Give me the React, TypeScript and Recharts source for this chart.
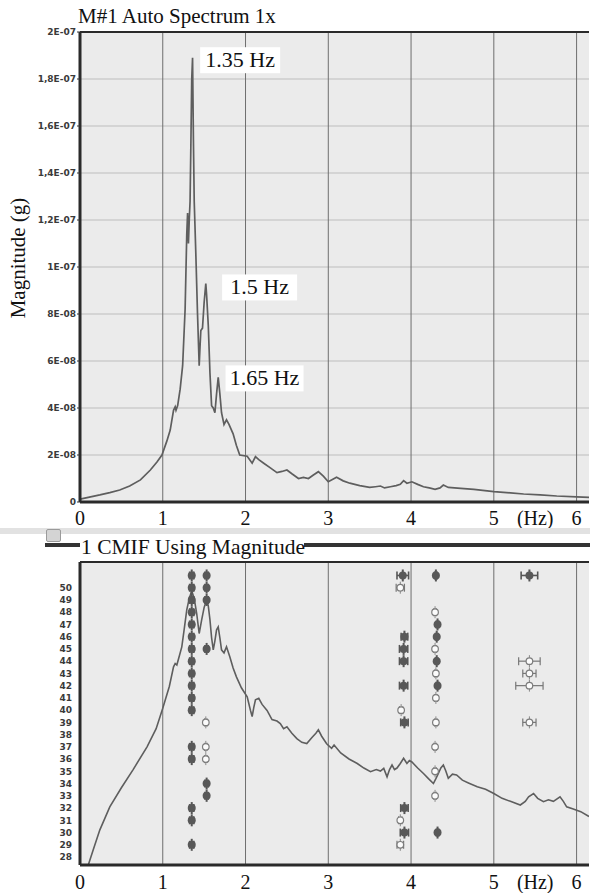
import {
  CartesianGrid,
  ComposedChart,
  ErrorBar,
  Line,
  ReferenceDot,
  ReferenceLine,
  Scatter,
  XAxis,
  YAxis,
} from "recharts"

// auto spectrum, frequency (Hz) vs magnitude (g)
const specFreq = [
  0, 0.1, 0.24, 0.36, 0.48, 0.6, 0.73, 0.85, 0.93, 0.99, 1.05, 1.09, 1.13, 1.15, 1.16, 1.18,
  1.21, 1.24, 1.27, 1.29, 1.3, 1.31, 1.32, 1.33, 1.34, 1.35, 1.36, 1.37, 1.38, 1.4, 1.42,
  1.44, 1.45, 1.46, 1.48, 1.5, 1.52, 1.53, 1.55, 1.57, 1.59, 1.61, 1.63, 1.65, 1.67, 1.69,
  1.71, 1.74, 1.77, 1.8, 1.85, 1.89, 1.93, 2.02, 2.08, 2.12, 2.16, 2.22, 2.3, 2.38, 2.44,
  2.5, 2.56, 2.64, 2.7, 2.76, 2.82, 2.88, 2.94, 3.0, 3.1, 3.18, 3.26, 3.38, 3.5, 3.57, 3.63,
  3.68, 3.75, 3.82, 3.87, 3.91, 3.95, 4.01, 4.08, 4.15, 4.22, 4.29, 4.35, 4.39, 4.45, 4.6,
  4.76, 5.0, 5.2, 5.36, 5.56, 5.76, 6.0, 6.15,
]
const specMag = [
  1.2e-9, 2.0e-9, 3.0e-9, 4.0e-9, 5.1e-9, 6.8e-9, 9.4e-9, 1.36e-8, 1.7e-8, 2.0e-8, 2.6e-8,
  3.06e-8, 3.9e-8, 4.05e-8, 3.9e-8, 4.1e-8, 4.8e-8, 5.8e-8, 8.2e-8, 1.14e-7, 1.23e-7, 1.1e-7,
  1.2e-7, 1.28e-7, 1.53e-7, 1.8e-7, 1.89e-7, 1.55e-7, 1.28e-7, 1.05e-7, 8.0e-8, 5.8e-8,
  6.6e-8, 7.3e-8, 7.4e-8, 8.5e-8, 9.3e-8, 8.8e-8, 7.5e-8, 5.5e-8, 4.1e-8, 4.0e-8, 3.8e-8,
  4.6e-8, 5.3e-8, 4.6e-8, 3.8e-8, 3.3e-8, 3.5e-8, 3.3e-8, 2.9e-8, 2.4e-8, 2.0e-8, 1.95e-8,
  1.65e-8, 1.93e-8, 1.8e-8, 1.65e-8, 1.45e-8, 1.25e-8, 1.3e-8, 1.36e-8, 1.2e-8, 1.0e-8,
  1.05e-8, 1.0e-8, 1.15e-8, 1.29e-8, 1.1e-8, 8.6e-9, 1.05e-8, 9.0e-9, 8.0e-9, 7.0e-9,
  6.2e-9, 6.5e-9, 6.8e-9, 6.0e-9, 6.5e-9, 7.0e-9, 7.5e-9, 9.1e-9, 8.0e-9, 8.6e-9, 7.5e-9,
  6.5e-9, 6.0e-9, 5.4e-9, 6.0e-9, 7.2e-9, 6.2e-9, 5.8e-9, 5.4e-9, 4.4e-9, 3.9e-9, 3.4e-9,
  3.0e-9, 2.55e-9, 2.2e-9, 2.0e-9,
]

const magTicks = [0, 2e-8, 4e-8, 6e-8, 8e-8, 1e-7, 1.2e-7, 1.4e-7, 1.6e-7, 1.8e-7, 2e-7]
const magTickLabels = ["0", "2E-08", "4E-08", "6E-08", "8E-08", "1E-07", "1,2E-07", "1,4E-07", "1,6E-07", "1,8E-07", "2E-07"]

const hzTicks = [0, 1, 2, 3, 4, 5, 5.5, 6]
const hzTickLabels = ["0", "1", "2", "3", "4", "5", "(Hz)", "6"]
const hzGrid = [1, 2, 3, 4, 5, 6]

// CMIF curve (relative level, 0..100 of the plot height)
const cmifFreq = [
  0.1, 0.16, 0.24, 0.36, 0.5, 0.64, 0.81, 0.92, 1.0, 1.08, 1.13, 1.15, 1.17, 1.2, 1.23, 1.26,
  1.29, 1.32, 1.35, 1.38, 1.41, 1.44, 1.47, 1.5, 1.53, 1.55, 1.57, 1.59, 1.61, 1.63, 1.65,
  1.67, 1.69, 1.71, 1.74, 1.77, 1.81, 1.85, 1.89, 1.95, 2.02, 2.06, 2.08, 2.1, 2.12, 2.16,
  2.2, 2.26, 2.32, 2.38, 2.42, 2.46, 2.5, 2.56, 2.62, 2.68, 2.74, 2.8, 2.85, 2.88, 2.92,
  2.98, 3.04, 3.07, 3.15, 3.25, 3.35, 3.43, 3.51, 3.58, 3.63, 3.67, 3.71, 3.74, 3.77, 3.8,
  3.83, 3.87, 3.91, 3.95, 3.98, 4.01, 4.08, 4.15, 4.21, 4.27, 4.3, 4.33, 4.36, 4.39, 4.42,
  4.45, 4.5, 4.55, 4.62, 4.7, 4.8, 4.9, 5.0, 5.1, 5.2, 5.32, 5.38, 5.42, 5.48, 5.53, 5.6,
  5.66, 5.72, 5.8, 5.84, 5.88, 5.96, 6.05, 6.15,
]
const cmifLevel = [
  0, 5, 11.6, 19.2, 25.5, 31.4, 39, 45, 51.7, 59, 65.4, 66.5, 66, 69, 72, 78, 84.2, 88, 90.5,
  88, 83, 76.4, 80.9, 85, 87.5, 85.5, 81, 75, 71, 74, 77.6, 78.6, 75, 71, 70, 72, 68.7, 65,
  62.1, 58.5, 55.5, 51, 49, 52, 54.5, 55, 53, 51, 48, 47.5, 46.7, 45, 45.6, 43.5, 41.7, 40.5,
  40.1, 42, 43.5, 44.6, 42.5, 40, 38.5, 39.6, 37, 35, 33.5, 32, 30.8, 31.5, 31, 31.9, 29.1,
  31.5, 33, 31.5, 32, 33.5, 35.2, 33.5, 34.5, 34, 32, 30.2, 28.5, 26.9, 28.5, 30.2, 32, 33,
  31, 28.6, 30, 29.7, 28, 27, 25.8, 25, 23.6, 22, 21, 19.8, 21, 22.5, 23.6, 22, 20.9, 21.5,
  21, 22.5, 21, 19.2, 18.5, 17.6, 16,
]

// stability markers: [frequency Hz, model order, frequency spread Hz]
const stablePoles: [number, number, number][] = [
  [1.35, 51, 0.025], [1.35, 50, 0.025], [1.35, 49, 0.025], [1.35, 48, 0.025], [1.35, 47, 0.025],
  [1.35, 46, 0.025], [1.35, 45, 0.025], [1.35, 44, 0.025], [1.35, 43, 0.025], [1.35, 42, 0.025],
  [1.35, 41, 0.025], [1.35, 40, 0.025], [1.35, 37, 0.025], [1.35, 36, 0.025], [1.35, 32, 0.025],
  [1.35, 31, 0.025], [1.35, 29, 0.025],
  [1.53, 51, 0.02], [1.53, 50, 0.02], [1.53, 49, 0.02], [1.53, 45, 0.02], [1.53, 34, 0.02],
  [1.53, 33, 0.02],
  [3.9, 51, 0.07], [3.92, 46, 0.04], [3.91, 45, 0.05], [3.91, 44, 0.05], [3.91, 42, 0.05],
  [3.92, 39, 0.045], [3.92, 32, 0.045], [3.92, 30, 0.05],
  [4.3, 51, 0.015], [4.32, 47, 0.015], [4.31, 46, 0.015], [4.31, 44, 0.015], [4.32, 42, 0.015],
  [4.32, 30, 0.015],
  [5.43, 51, 0.1],
]
const unstablePoles: [number, number, number][] = [
  [1.52, 39, 0.015], [1.52, 37, 0.015], [1.52, 36, 0.015],
  [3.87, 50, 0.05], [3.88, 40, 0.02], [3.87, 31, 0.02], [3.87, 29, 0.04],
  [4.29, 48, 0.015], [4.29, 45, 0.015], [4.3, 43, 0.015], [4.3, 41, 0.015], [4.3, 39, 0.015],
  [4.29, 37, 0.015], [4.29, 35, 0.015], [4.29, 33, 0.015],
  [5.43, 44, 0.13], [5.43, 43, 0.08], [5.43, 42, 0.165], [5.43, 39, 0.08],
]

const orderTicks = [50, 49, 48, 47, 46, 45, 44, 43, 42, 41, 40, 39, 38, 37, 36, 35, 34, 33, 32, 31, 30, 29, 28]

const spectrumData = specFreq.map((f, i) => ({ f, mag: specMag[i] }))
const cmifData = cmifFreq.map((f, i) => ({ f, v: cmifLevel[i] }))
const stableData = stablePoles.map(([f, order, df]) => ({ f, order, df }))
const unstableData = unstablePoles.map(([f, order, df]) => ({ f, order, df }))

const serif = "'Liberation Serif', 'Times New Roman', serif"
const smallFont = { fontFamily: "'DejaVu Sans', sans-serif", fontSize: 9, fontWeight: 700, fill: "#3a3a3a" }
const hzTickStyle = { fontFamily: serif, fontSize: 20, fill: "#111" }

function PeakLabel(props: any) {
  const { cx, cy, text, w } = props
  return (
    <g>
      <rect x={cx - w / 2} y={cy - 13} width={w} height={26} fill="#ffffff" />
      <text x={cx} y={cy + 7} textAnchor="middle" fontFamily={serif} fontSize={22} fill="#111">
        {text}
      </text>
    </g>
  )
}

function StableMark(props: any) {
  const { cx, cy } = props
  return (
    <g>
      <line x1={cx} x2={cx} y1={cy - 6} y2={cy + 6} stroke="#555" strokeWidth={2} />
      <circle cx={cx} cy={cy} r={4} fill="#585858" />
    </g>
  )
}

function UnstableMark(props: any) {
  const { cx, cy } = props
  return (
    <g>
      <line x1={cx} x2={cx} y1={cy - 6} y2={cy + 6} stroke="#888" strokeWidth={1} />
      <circle cx={cx} cy={cy} r={3.3} fill="#fbfbfb" stroke="#7c7c7c" strokeWidth={1.2} />
    </g>
  )
}

export default function App() {
  return (
    <div
      style={{
        position: "absolute",
        left: 0,
        top: 0,
        width: 590,
        height: 893,
        background: "#fff",
        overflow: "hidden",
      }}
    >
      <div
        style={{
          position: "absolute",
          left: 78,
          top: 4,
          fontFamily: serif,
          fontSize: 21,
          lineHeight: "24px",
          color: "#111",
          whiteSpace: "nowrap",
        }}
      >
        M#1 Auto Spectrum 1x
      </div>

      <div style={{ position: "absolute", left: 0, top: 0 }}>
        <ComposedChart
          width={590}
          height={530}
          data={spectrumData}
          margin={{ top: 32, right: 1, bottom: 0, left: 0 }}
        >
          <CartesianGrid vertical={false} fill="#ebebeb" stroke="#cdcdcd" strokeWidth={1.5} />
          <XAxis
            dataKey="f"
            type="number"
            domain={[0, 6.15]}
            allowDataOverflow
            ticks={hzTicks}
            interval={0}
            tickFormatter={(_v: number, i: number) => hzTickLabels[i]}
            tick={hzTickStyle}
            tickLine={false}
            tickSize={0}
            tickMargin={9}
            height={28}
            axisLine={{ stroke: "#2a2a2a", strokeWidth: 3 }}
          />
          <YAxis
            type="number"
            domain={[0, 2e-7]}
            ticks={magTicks}
            interval={0}
            tickFormatter={(_v: number, i: number) => magTickLabels[i]}
            tick={smallFont}
            tickSize={3}
            tickMargin={1}
            tickLine={{ stroke: "#333" }}
            width={80}
            axisLine={{ stroke: "#2a2a2a", strokeWidth: 3 }}
            label={{
              value: "Magnitude (g)",
              content: () => (
                <text
                  x={18}
                  y={258}
                  transform="rotate(-90 18 258)"
                  textAnchor="middle"
                  dominantBaseline="central"
                  fontFamily={serif}
                  fontSize={21}
                  fill="#111"
                >
                  Magnitude (g)
                </text>
              ),
            }}
          />
          {hzGrid.map((x) => (
            <ReferenceLine key={x} x={x} stroke="#6e6e6e" strokeWidth={1} />
          ))}
          <ReferenceLine y={2e-7} stroke="#2a2a2a" strokeWidth={2} />
          <Line
            dataKey="mag"
            type="linear"
            stroke="#5e5e5e"
            strokeWidth={1.7}
            dot={false}
            isAnimationActive={false}
          />
          <ReferenceDot
            x={1.935}
            y={1.88e-7}
            ifOverflow="visible"
            shape={(p: any) => <PeakLabel {...p} text="1.35 Hz" w={80} />}
          />
          <ReferenceDot
            x={2.17}
            y={9.13e-8}
            ifOverflow="visible"
            shape={(p: any) => <PeakLabel {...p} text="1.5 Hz" w={75} />}
          />
          <ReferenceDot
            x={2.23}
            y={5.26e-8}
            ifOverflow="visible"
            shape={(p: any) => <PeakLabel {...p} text="1.65 Hz" w={78} />}
          />
        </ComposedChart>
      </div>

      {/* header strip of the lower panel */}
      <div style={{ position: "absolute", left: 0, top: 528, width: 590, height: 6, background: "#e2e2e2" }} />
      <div
        style={{
          position: "absolute",
          left: 46,
          top: 529,
          width: 13,
          height: 11,
          background: "#d4d4d4",
          border: "1px solid #9a9a9a",
          borderRadius: 2,
        }}
      />
      <div style={{ position: "absolute", left: 45, top: 543, width: 545, height: 4, background: "#333" }} />
      <div
        style={{
          position: "absolute",
          left: 80,
          top: 536,
          width: 224,
          height: 24,
          background: "#fff",
        }}
      />
      <div
        style={{
          position: "absolute",
          left: 81,
          top: 535,
          fontFamily: serif,
          fontSize: 21.5,
          lineHeight: "24px",
          color: "#111",
          whiteSpace: "nowrap",
        }}
      >
        1 CMIF Using Magnitude
      </div>

      <div style={{ position: "absolute", left: 0, top: 530 }}>
        <ComposedChart width={590} height={363} margin={{ top: 32, right: 1, bottom: 0, left: 0 }}>
          <CartesianGrid vertical={false} horizontal={false} fill="#ebebeb" />
          <XAxis
            dataKey="f"
            type="number"
            domain={[0, 6.15]}
            allowDataOverflow
            ticks={hzTicks}
            interval={0}
            tickFormatter={(_v: number, i: number) => hzTickLabels[i]}
            tick={hzTickStyle}
            tickLine={false}
            tickSize={0}
            tickMargin={10}
            height={28}
            axisLine={{ stroke: "#2a2a2a", strokeWidth: 3 }}
          />
          <YAxis
            yAxisId="order"
            dataKey="order"
            type="number"
            domain={[27.35, 52.1]}
            allowDataOverflow
            ticks={orderTicks}
            interval={0}
            tick={smallFont}
            tickLine={false}
            tickSize={0}
            tickMargin={8}
            width={80}
            axisLine={{ stroke: "#2a2a2a", strokeWidth: 3 }}
          />
          <YAxis
            yAxisId="cmif"
            orientation="right"
            width={0}
            type="number"
            domain={[0, 100]}
            allowDataOverflow
            hide
          />
          {hzGrid.map((x) => (
            <ReferenceLine key={x} x={x} yAxisId="order" stroke="#6e6e6e" strokeWidth={1} />
          ))}
          <ReferenceLine y={52.1} yAxisId="order" stroke="#2a2a2a" strokeWidth={2} />
          <Line
            data={cmifData}
            yAxisId="cmif"
            dataKey="v"
            type="linear"
            stroke="#5e5e5e"
            strokeWidth={1.6}
            dot={false}
            isAnimationActive={false}
          />
          <Scatter
            data={unstableData}
            yAxisId="order"
            dataKey="order"
            shape={UnstableMark}
            isAnimationActive={false}
          >
            <ErrorBar dataKey="df" direction="x" width={4} stroke="#777" strokeWidth={1.2} />
          </Scatter>
          <Scatter
            data={stableData}
            yAxisId="order"
            dataKey="order"
            shape={StableMark}
            isAnimationActive={false}
          >
            <ErrorBar dataKey="df" direction="x" width={4} stroke="#555" strokeWidth={1.6} />
          </Scatter>
        </ComposedChart>
      </div>
    </div>
  )
}
